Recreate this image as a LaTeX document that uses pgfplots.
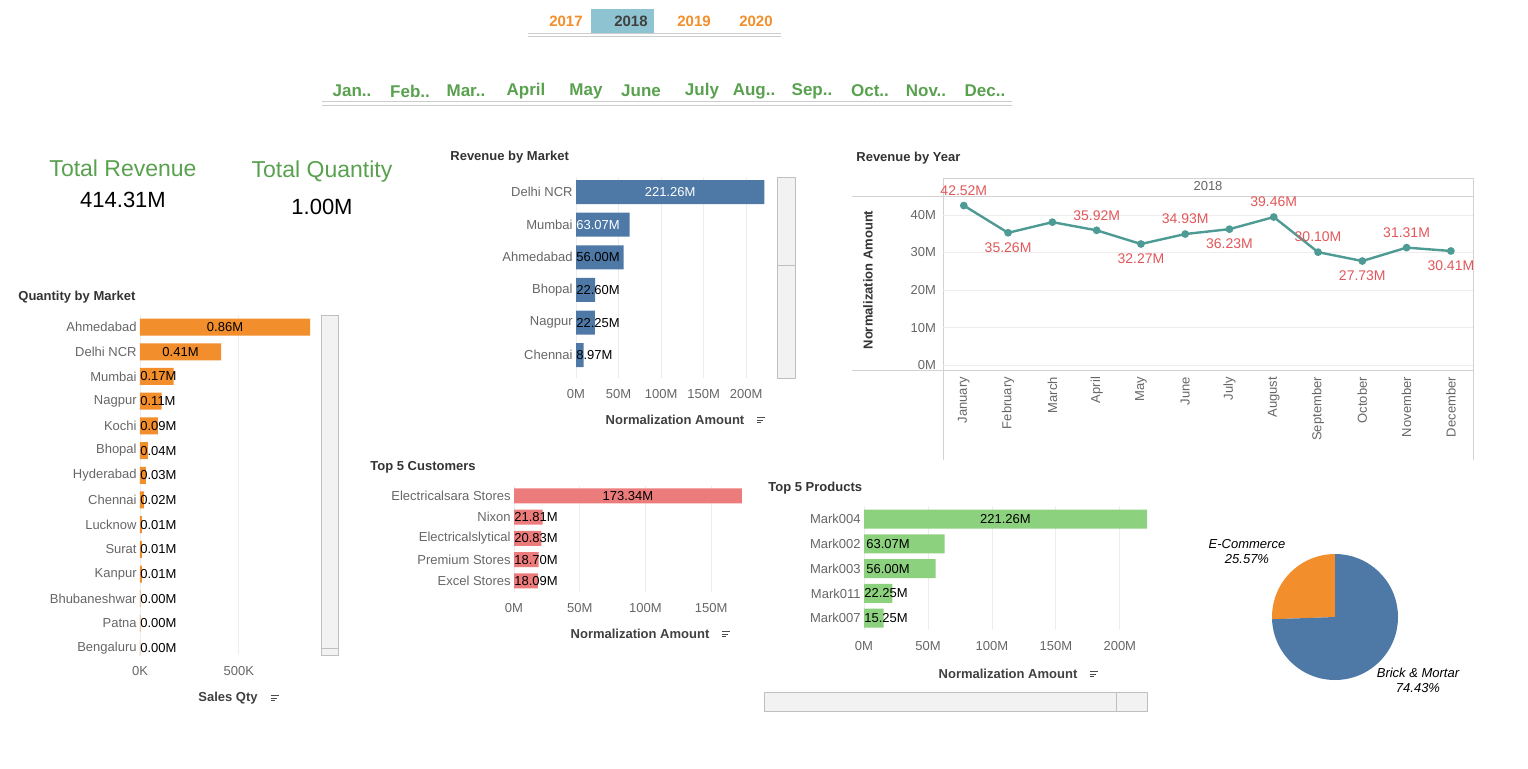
\documentclass[border=0pt]{standalone}
\usepackage{pgfplots}
\pgfplotsset{compat=1.18}
\usepackage{fontspec}
\setmainfont{Liberation Sans}
\definecolor{tor}{HTML}{F28E2B}
\definecolor{tbl}{HTML}{4E79A7}
\definecolor{trd}{HTML}{EC7B7B}
\definecolor{tgr}{HTML}{8CD17D}
\definecolor{kgr}{HTML}{59A14F}
\definecolor{teal}{HTML}{4E9A94}
\definecolor{lred}{HTML}{E15759}
\definecolor{txg}{HTML}{666666}
\definecolor{grd}{HTML}{EDEDED}
\definecolor{selb}{HTML}{8EC4D2}
\newcommand{\fs}{\fontsize{6.5}{7.5}\selectfont}
\pgfplotsset{
 tbar/.style={scale only axis, y dir=reverse, axis line style={draw=none},
  major tick length=0pt, xmajorgrids, grid style={grd, line width=0.4pt},
  ytick=data, ymajorgrids=false, xmin=0,
  ticklabel style={font=\fs, text=txg},
  yticklabel style={inner sep=1.5pt},
  xticklabel style={yshift=-2pt},
  /pgf/number format/assume math mode=true, clip=true},
}
\begin{document}
\begin{tikzpicture}[x=0.5pt,y=-0.5pt]
\useasboundingbox (0,0) rectangle (1528,768);
% year filter
\fill[selb] (591,9) rectangle (654,33);
\foreach \x/\t in {566/2017,694/2019,756/2020}
 \node[font=\bfseries\fontsize{7.5}{8}\selectfont, text=tor] at (\x,21) {\t};
\node[font=\bfseries\fontsize{7.5}{8}\selectfont, text=black!75] at (631,21) {2018};
\draw[gray!40] (528,33)--(781,33) (528,36)--(781,36);
% months
\foreach \x/\t in {352/Jan..,410/Feb..,466/Mar..,526/April,586/May,641/June,702/July,754/Aug..,812/Sep..,870/Oct..,926/Nov..,985/Dec..}
 \node[font=\bfseries\fontsize{8.5}{9}\selectfont, text=kgr] at (\x,91) {\t};
\draw[gray!40] (322,101)--(1012,101) (322,105)--(1012,105);
% KPIs
\node[font=\fontsize{11.5}{12}\selectfont, text=kgr] at (123,168) {Total Revenue};
\node[font=\fontsize{11}{12}\selectfont] at (123,200) {414.31M};
\node[font=\fontsize{11.5}{12}\selectfont, text=kgr] at (322,172) {Total Quantity};
\node[font=\fontsize{11}{12}\selectfont] at (322,207) {1.00M};
% titles
\foreach \x/\y/\t in {18/297/Quantity by Market,450/157/Revenue by Market,856/158/Revenue by Year,370/467/Top 5 Customers,768/488/Top 5 Products}
 \node[anchor=west, inner sep=0pt, font=\bfseries\fs, text=black!80] at (\x,\y) {\t};
% axis labels
\foreach \x/\y/\t in {228/698/Sales Qty,675/420/Normalization Amount,640/634/Normalization Amount,1008/674/Normalization Amount}
 {\node[font=\bfseries\fs, text=black!75] (L) at (\x,\y) {\t};
  \draw[black!70, line width=0.5pt] ([xshift=3pt,yshift=1.3pt]L.east)--++(4pt,0) ([xshift=3pt]L.east)--++(3pt,0) ([xshift=3pt,yshift=-1.3pt]L.east)--++(2pt,0);}
% scrollbars
\draw[gray!50, fill=gray!10] (321,315) rectangle (338,655);
\draw[gray!50] (321,648)--(338,648);
\draw[gray!50, fill=gray!10] (777,177) rectangle (795,378);
\draw[gray!50] (777,265)--(795,265);
\draw[gray!50, fill=gray!10] (764,692) rectangle (1147,711);
\draw[gray!50] (1116,692)--(1116,711);
% line panel frame
\draw[gray!35] (943,178)--(1473,178) (852,196)--(1473,196) (852,370)--(1473,370) (943,178)--(943,460) (1473,178)--(1473,460);
\node[font=\fs, text=txg] at (1208,186) {2018};
\node[rotate=90, font=\bfseries\fs, text=black!80] at (868,280) {Normalization Amount};

\coordinate (cq) at (227.5,485);
\coordinate (cr) at (673,277.5);
\coordinate (cl) at (1208,283);
\coordinate (cc) at (629.5,539);
\coordinate (cp) at (1007,568);

% Quantity by Market
\begin{axis}[tbar, at={(cq)}, anchor=center, width=87.5pt, height=170pt,
 xmax=0.885, ymin=-0.49, ymax=13.28, xtick={0,0.5}, xticklabels={0K,500K},
 yticklabels={Ahmedabad,Delhi NCR,Mumbai,Nagpur,Kochi,Bhopal,Hyderabad,Chennai,Lucknow,Surat,Kanpur,Bhubaneshwar,Patna,Bengaluru}]
\addplot[xbar, bar width=8.5pt, fill=tor, draw=none] coordinates {
(0.86,0)(0.41,1)(0.17,2)(0.11,3)(0.09,4)(0.04,5)(0.03,6)(0.02,7)(0.01,8)(0.01,9)(0.01,10)(0.002,11)(0.002,12)(0.001,13)};
\node[font=\fs] at (axis cs:0.43,0) {0.86M};
\node[font=\fs] at (axis cs:0.205,1) {0.41M};
\foreach \i/\t in {2/0.17M,3/0.11M,4/0.09M,5/0.04M,6/0.03M,7/0.02M,8/0.01M,9/0.01M,10/0.01M,11/0.00M,12/0.00M,13/0.00M}
 {\edef\tmp{\noexpand\node[font=\noexpand\fs, anchor=west, inner sep=0pt] at (axis cs:0,\i) {\t};}\tmp}
\end{axis}

% Revenue by Market
\begin{axis}[tbar, at={(cr)}, anchor=center, width=97pt, height=100.5pt,
 xmax=228, ymin=-0.46, ymax=5.7, xtick={0,50,100,150,200}, xticklabels={0M,50M,100M,150M,200M},
 yticklabels={Delhi NCR,Mumbai,Ahmedabad,Bhopal,Nagpur,Chennai}]
\addplot[xbar, bar width=12pt, fill=tbl, draw=none] coordinates {
(221.26,0)(63.07,1)(56.00,2)(22.60,3)(22.25,4)(8.97,5)};
\node[font=\fs, text=white] at (axis cs:110.6,0) {221.26M};
\node[font=\fs, text=white, anchor=west, inner sep=0pt] at (axis cs:0,1) {63.07M};
\node[font=\fs, anchor=west, inner sep=0pt] at (axis cs:0,2) {56.00M};
\node[font=\fs, anchor=west, inner sep=0pt] at (axis cs:0,3) {22.60M};
\node[font=\fs, anchor=west, inner sep=0pt] at (axis cs:0,4) {22.25M};
\node[font=\fs, anchor=west, inner sep=0pt] at (axis cs:0,5) {8.97M};
\end{axis}

% Revenue by Year
\begin{axis}[scale only axis, at={(cl)}, anchor=center, width=265pt, height=87pt,
 xmin=-0.47, xmax=11.5, ymin=-1.33, ymax=45.07, axis line style={draw=none},
 major tick length=0pt, ymajorgrids, grid style={grd, line width=0.4pt},
 ytick={0,10,20,30,40}, yticklabels={0M,10M,20M,30M,40M},
 xtick={0,...,11}, xticklabels={January,February,March,April,May,June,July,August,September,October,November,December},
 xticklabel style={rotate=90, anchor=east, font=\fs, text=txg},
 yticklabel style={font=\fs, text=txg},
 /pgf/number format/assume math mode=true, clip=false]
\addplot[teal, line width=1.2pt, mark=*, mark size=1.3pt] coordinates {
(0,42.52)(1,35.26)(2,38.1)(3,35.92)(4,32.27)(5,34.93)(6,36.23)(7,39.46)(8,30.10)(9,27.73)(10,31.31)(11,30.41)};
\foreach \i/\v/\t/\s in {0/42.52/42.52M/1,1/35.26/35.26M/-1,3/35.92/35.92M/1,4/32.27/32.27M/-1,5/34.93/34.93M/1,6/36.23/36.23M/-1,7/39.46/39.46M/1,8/30.10/30.10M/1,9/27.73/27.73M/-1,10/31.31/31.31M/1,11/30.41/30.41M/-1}
 {\edef\tmp{\noexpand\node[font=\noexpand\fontsize{7}{8}\noexpand\selectfont, text=lred, yshift=\s*7.5pt] at (axis cs:\i,\v) {\t};}\tmp}
\end{axis}

% Top 5 Customers
\begin{axis}[tbar, at={(cc)}, anchor=center, width=115.5pt, height=53pt,
 xmax=175.7, ymin=-0.47, ymax=4.52, xtick={0,50,100,150}, xticklabels={0M,50M,100M,150M},
 yticklabels={Electricalsara Stores,Nixon,Electricalslytical,Premium Stores,Excel Stores}]
\addplot[xbar, bar width=7.5pt, fill=trd, draw=none] coordinates {
(173.34,0)(21.81,1)(20.83,2)(18.70,3)(18.09,4)};
\node[font=\fs] at (axis cs:86.7,0) {173.34M};
\node[font=\fs, anchor=west, inner sep=0pt] at (axis cs:0,1) {21.81M};
\node[font=\fs, anchor=west, inner sep=0pt] at (axis cs:0,2) {20.83M};
\node[font=\fs, anchor=west, inner sep=0pt] at (axis cs:0,3) {18.70M};
\node[font=\fs, anchor=west, inner sep=0pt] at (axis cs:0,4) {18.09M};
\end{axis}

% Top 5 Products
\begin{axis}[tbar, at={(cp)}, anchor=center, width=143pt, height=62pt,
 xmax=223.6, ymin=-0.53, ymax=4.48, xtick={0,50,100,150,200}, xticklabels={0M,50M,100M,150M,200M},
 yticklabels={Mark004,Mark002,Mark003,Mark011,Mark007}]
\addplot[xbar, bar width=9.5pt, fill=tgr, draw=none] coordinates {
(221.26,0)(63.07,1)(56.00,2)(22.25,3)(15.25,4)};
\node[font=\fs] at (axis cs:110.6,0) {221.26M};
\node[font=\fs, anchor=west, inner sep=1pt] at (axis cs:0,1) {63.07M};
\node[font=\fs, anchor=west, inner sep=1pt] at (axis cs:0,2) {56.00M};
\node[font=\fs, anchor=west, inner sep=0pt] at (axis cs:0,3) {22.25M};
\node[font=\fs, anchor=west, inner sep=0pt] at (axis cs:0,4) {15.25M};
\end{axis}

% pie
\begin{scope}[shift={(1335,617)}, yscale=-1]
\fill[tor] (0,0) -- (90:63) arc[start angle=90, end angle=182.05, radius=63] -- cycle;
\fill[tbl] (0,0) -- (182.05:63) arc[start angle=182.05, end angle=450, radius=63] -- cycle;
\end{scope}
\node[font=\itshape\fs, align=center] at (1247,552) {E-Commerce\\25.57\%};
\node[font=\itshape\fs, align=center] at (1418,680) {Brick \& Mortar\\74.43\%};
\end{tikzpicture}
\end{document}
